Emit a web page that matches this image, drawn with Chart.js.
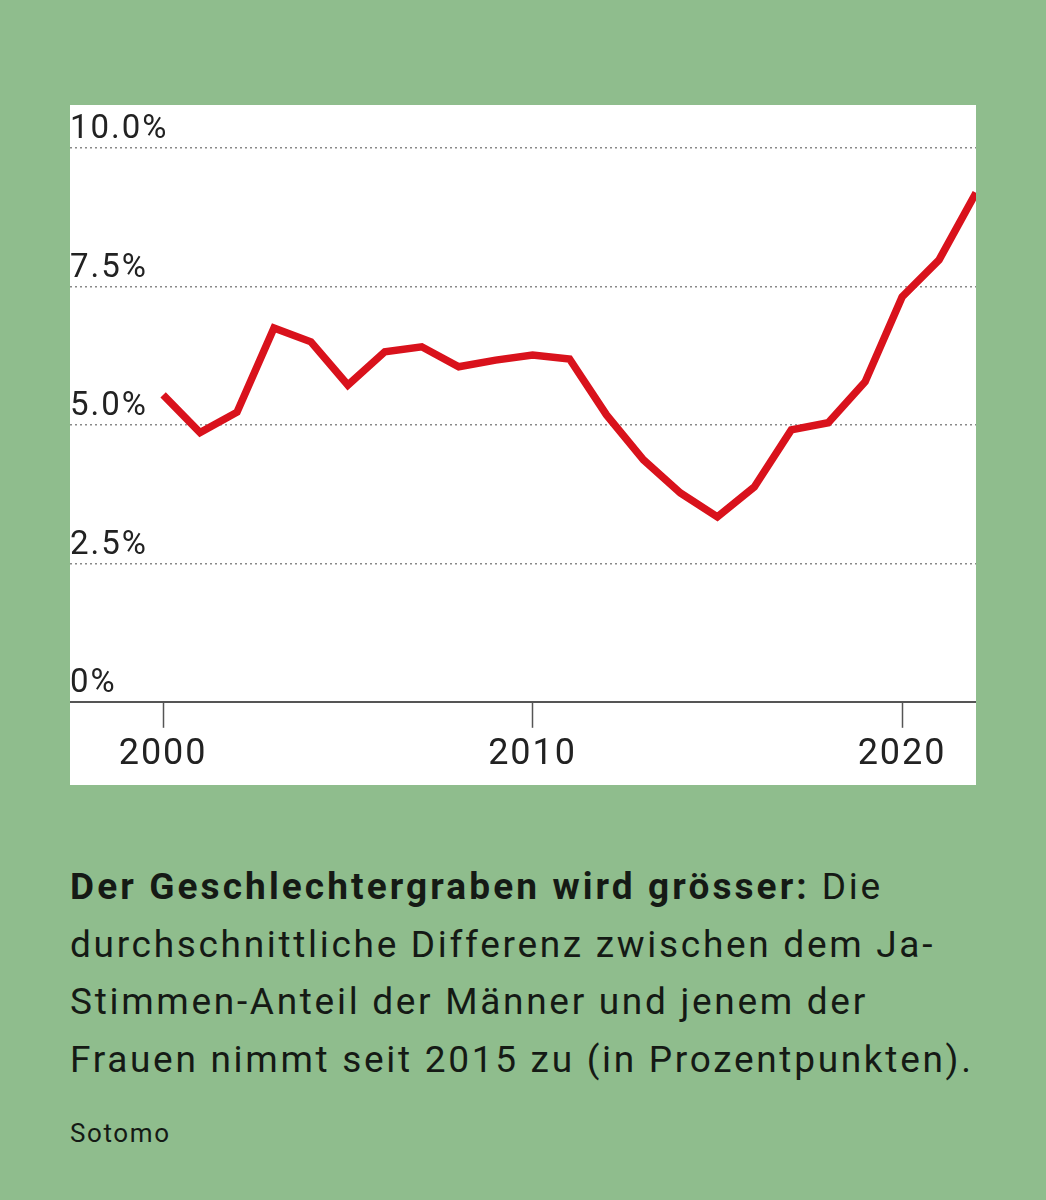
<!DOCTYPE html>
<html lang="de">
<head>
<meta charset="utf-8">
<script src="https://cdn.jsdelivr.net/npm/chart.js@4/dist/chart.umd.min.js"></script>
<style>
  html, body { margin: 0; padding: 0; }
  body { width: 1046px; height: 1200px; background: #8fbd8d; position: relative; font-family: Roboto, sans-serif; color: #151a15; }
  .panel { position: absolute; left: 70px; top: 105px; width: 906px; height: 680px; background: #fff; }
  .caption { position: absolute; left: 70px; top: 858px; width: 976px; font-size: 37px; line-height: 57.5px; letter-spacing: 2.7px; white-space: nowrap; }
  .caption b { font-weight: 700; letter-spacing: 3.1px; }
  .source { position: absolute; left: 70px; top: 1118px; font-size: 26px; letter-spacing: 1.6px; }
</style>
</head>
<body>
<div class="panel"><canvas id="chart" width="906" height="680"></canvas></div>
<div class="caption"><b>Der Geschlechtergraben wird grösser:</b> Die<br>durchschnittliche Differenz zwischen dem Ja-<br>Stimmen-Anteil der Männer und jenem der<br>Frauen nimmt seit 2015 zu (in Prozentpunkten).</div>
<div class="source">Sotomo</div>
<script>
/* Daten: mittlere Differenz Ja-Anteil Männer vs. Frauen (Prozentpunkte) */
const years = [2000, 2001, 2002, 2003, 2004, 2005, 2006, 2007, 2008, 2009, 2010,
               2011, 2012, 2013, 2014, 2015, 2016, 2017, 2018, 2019, 2020, 2021, 2022];
const gap   = [5.54, 4.86, 5.23, 6.75, 6.50, 5.72, 6.32, 6.41, 6.05, 6.17, 6.26,
               6.19, 5.18, 4.37, 3.77, 3.34, 3.88, 4.91, 5.04, 5.78, 7.31, 7.98, 9.19];
const xTicks = [2000, 2010, 2020];
const yTicks = [0, 2.5, 5, 7.5, 10];

/* etwas Laufweite für die Achsenbeschriftung */
const spacing = {
  id: 'spacing',
  beforeDraw: chart => { chart.ctx.letterSpacing = '2px'; },
};

new Chart(document.getElementById('chart'), {
  type: 'line',
  data: {
    datasets: [{
      data: years.map((y, i) => ({ x: y, y: gap[i] })),
      borderColor: '#d9121c',
      borderWidth: 7.5,
      pointRadius: 0,
      tension: 0,
      borderJoinStyle: 'miter',
    }],
  },
  options: {
    responsive: false,
    animation: false,
    layout: { padding: { top: 43, left: 0, right: 0, bottom: 2 } },
    plugins: { legend: { display: false }, tooltip: { enabled: false } },
    scales: {
      x: {
        type: 'linear',
        min: 1997.48,
        max: 2022,
        afterBuildTicks: axis => { axis.ticks = xTicks.map(v => ({ value: v })); },
        grid: { drawOnChartArea: false, drawTicks: true, tickLength: 26, tickColor: '#555', tickWidth: 1.5 },
        border: { display: true, color: '#555', width: 2 },
        ticks: { color: '#222', font: { family: 'Roboto', size: 36 }, padding: 6, maxRotation: 0, callback: v => String(v) },
      },
      y: {
        min: 0,
        max: 10,
        afterBuildTicks: axis => { axis.ticks = yTicks.map(v => ({ value: v })); },
        grid: {
          color: ctx => ctx.tick && ctx.tick.value === 0 ? 'rgba(0,0,0,0)' : '#8a8a8a',
          lineWidth: 1.5,
          drawTicks: false,
        },
        border: { display: false, dash: [2, 3] },
        ticks: {
          mirror: true,
          padding: 0,
          labelOffset: -18,
          color: '#222',
          font: { family: 'Roboto', size: 33 },
          callback: v => v === 0 ? '0%' : v.toFixed(1) + '%',
        },
      },
    },
  },
  plugins: [spacing],
});
</script>
</body>
</html>
